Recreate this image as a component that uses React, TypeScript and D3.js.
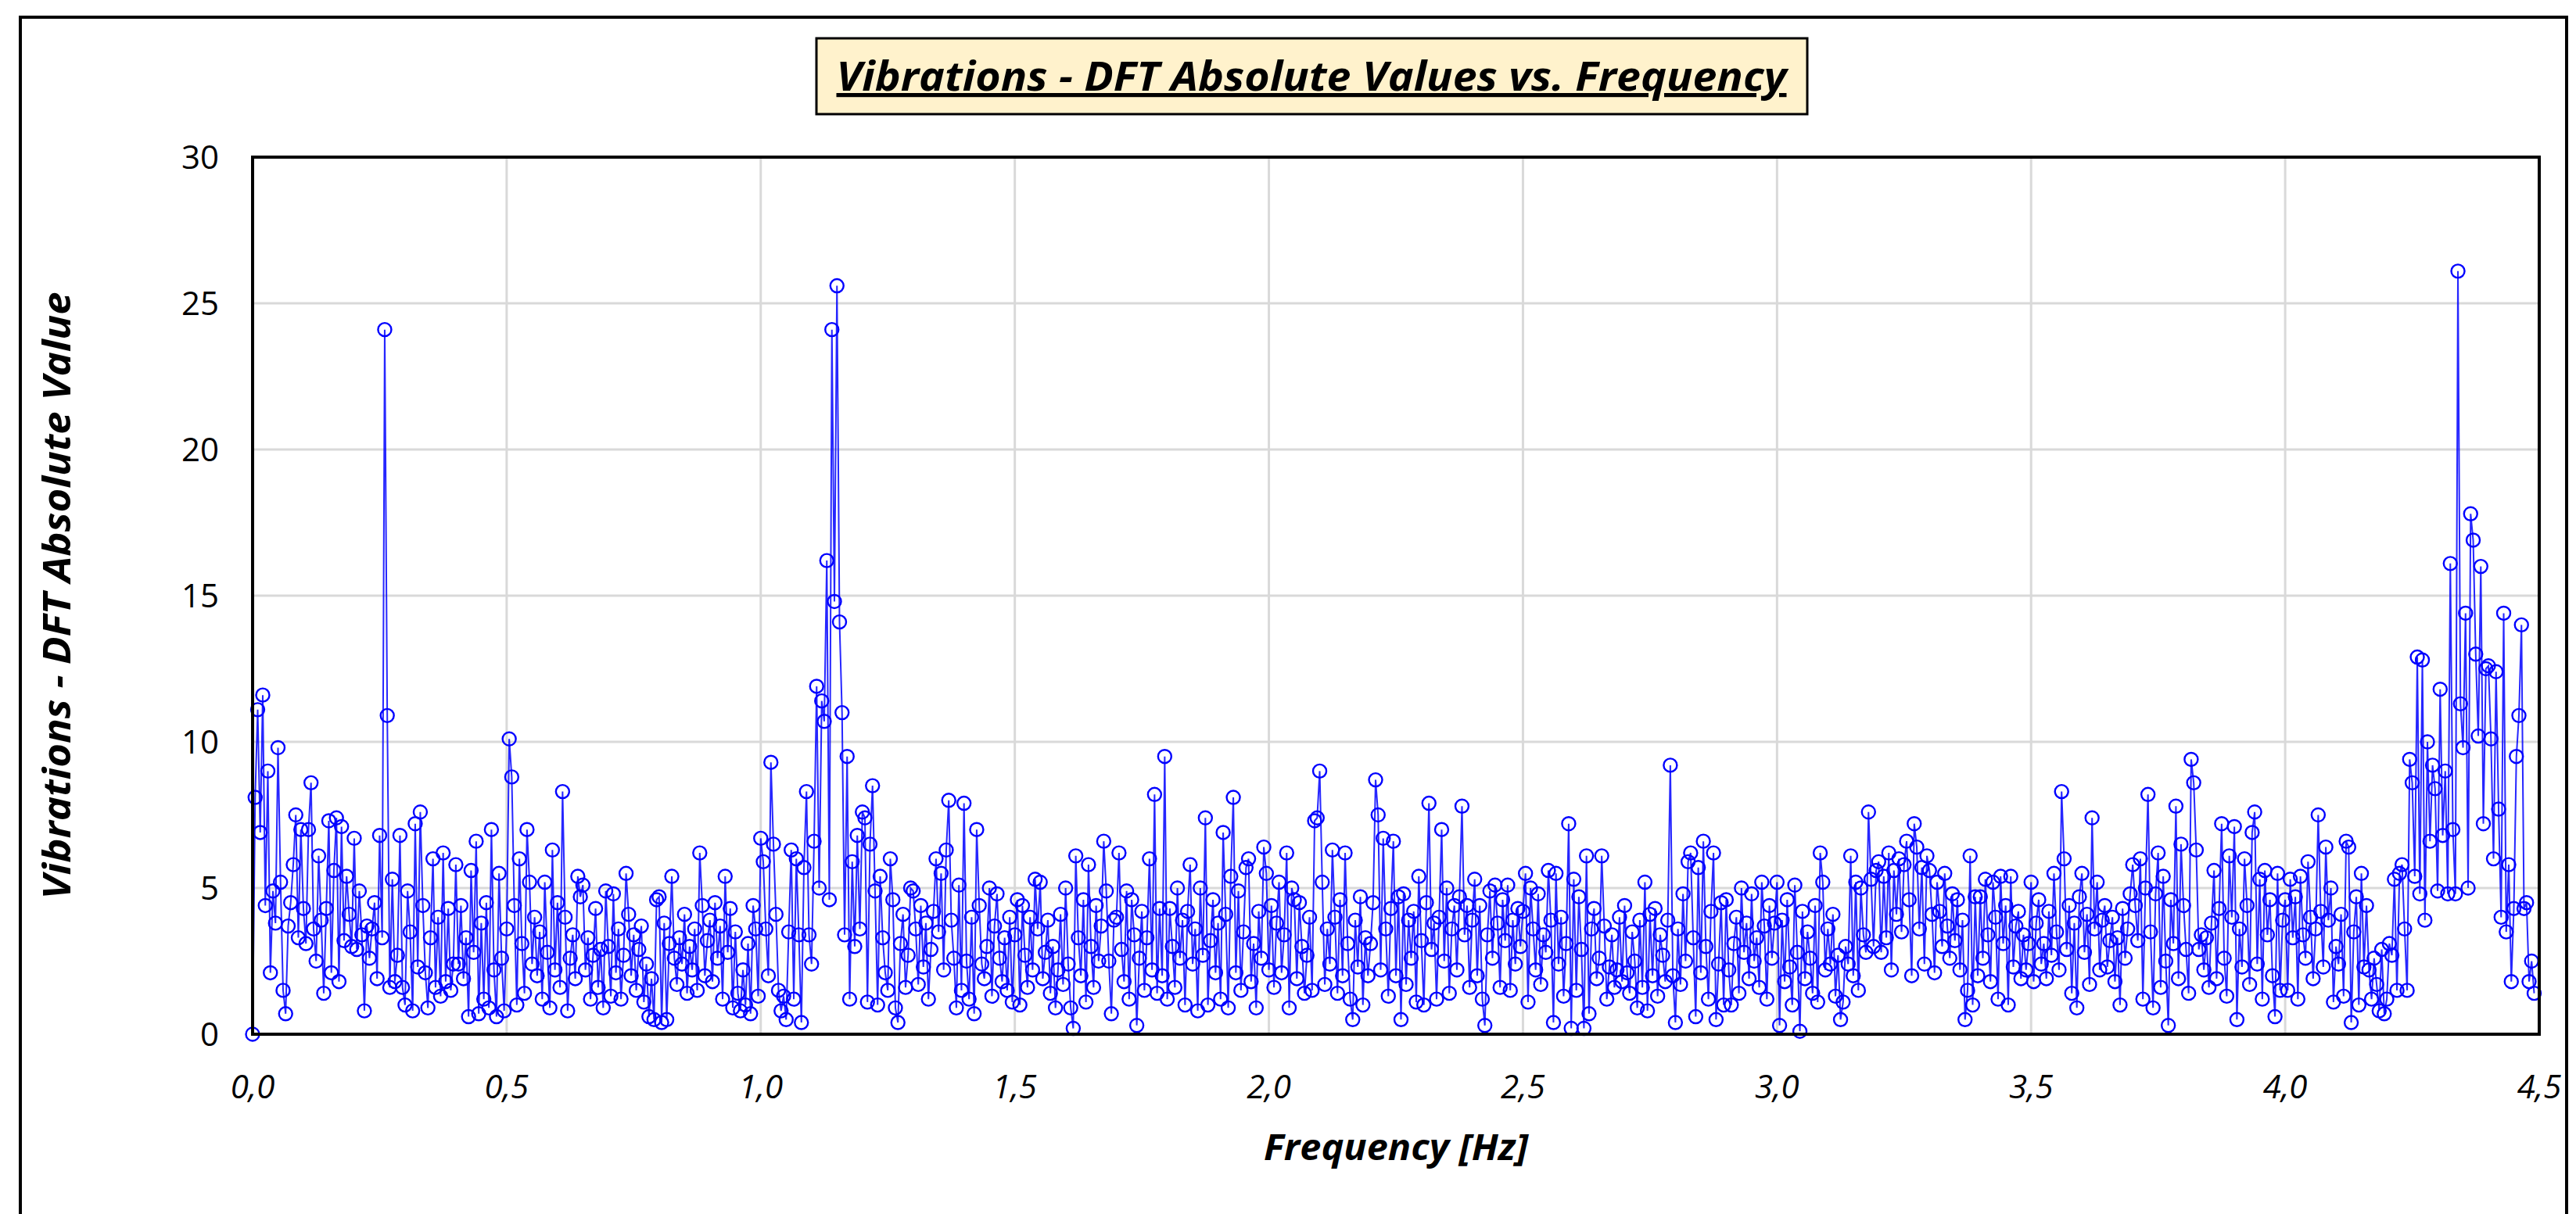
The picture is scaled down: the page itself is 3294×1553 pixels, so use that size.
import React from 'react';
import * as d3 from 'd3';

// DFT magnitudes, one value every 0.005 Hz in 0.5 Hz bands
const band00 = [
  0.0, 8.1, 11.1, 6.9, 11.6, 4.4, 9.0, 2.1, 4.9, 3.8, 9.8, 5.2, 1.5, 0.7, 3.7, 4.5, 5.8, 7.5, 3.3, 7.0,
  4.3, 3.1, 7.0, 8.6, 3.6, 2.5, 6.1, 3.9, 1.4, 4.3, 7.3, 2.1, 5.6, 7.4, 1.8, 7.1, 3.2, 5.4, 4.1, 3.0,
  6.7, 2.9, 4.9, 3.4, 0.8, 3.7, 2.6, 3.6, 4.5, 1.9, 6.8, 3.3, 24.1, 10.9, 1.6, 5.3, 1.8, 2.7, 6.8, 1.6,
  1.0, 4.9, 3.5, 0.8, 7.2, 2.3, 7.6, 4.4, 2.1, 0.9, 3.3, 6.0, 1.6, 4.0, 1.3, 6.2, 1.8, 4.3, 1.5, 2.4,
  5.8, 2.4, 4.4, 1.9, 3.3, 0.6, 5.6, 2.8, 6.6, 0.7, 3.8, 1.2, 4.5, 0.9, 7.0, 2.2, 0.6, 5.5, 2.6, 0.8,
];
const band05 = [
  3.6, 10.1, 8.8, 4.4, 1.0, 6.0, 3.1, 1.4, 7.0, 5.2, 2.4, 4.0, 2.0, 3.5, 1.2, 5.2, 2.8, 0.9, 6.3, 2.2,
  4.5, 1.6, 8.3, 4.0, 0.8, 2.6, 3.4, 1.9, 5.4, 4.7, 5.1, 2.2, 3.3, 1.2, 2.7, 4.3, 1.6, 2.9, 0.9, 4.9,
  3.0, 1.3, 4.8, 2.1, 3.6, 1.2, 2.7, 5.5, 4.1, 2.0, 3.4, 1.5, 2.9, 3.7, 1.1, 2.4, 0.6, 1.9, 0.5, 4.6,
  4.7, 0.4, 3.8, 0.5, 3.1, 5.4, 2.6, 1.7, 3.3, 2.4, 4.1, 1.4, 3.0, 2.2, 3.6, 1.5, 6.2, 4.4, 2.0, 3.2,
  3.9, 1.8, 4.5, 2.6, 3.7, 1.2, 5.4, 2.8, 4.3, 0.9, 3.5, 1.4, 0.8, 2.2, 1.0, 3.1, 0.7, 4.4, 3.6, 1.3,
];
const band10 = [
  6.7, 5.9, 3.6, 2.0, 9.3, 6.5, 4.1, 1.5, 0.8, 1.3, 0.5, 3.5, 6.3, 1.2, 6.0, 3.4, 0.4, 5.7, 8.3, 3.4,
  2.4, 6.6, 11.9, 5.0, 11.4, 10.7, 16.2, 4.6, 24.1, 14.8, 25.6, 14.1, 11.0, 3.4, 9.5, 1.2, 5.9, 3.0, 6.8, 3.6,
  7.6, 7.4, 1.1, 6.5, 8.5, 4.9, 1.0, 5.4, 3.3, 2.1, 1.5, 6.0, 4.6, 0.9, 0.4, 3.1, 4.1, 1.6, 2.7, 5.0,
  4.9, 3.6, 1.7, 4.4, 2.3, 3.8, 1.2, 2.9, 4.2, 6.0, 3.5, 5.5, 2.2, 6.3, 8.0, 3.9, 2.6, 0.9, 5.1, 1.5,
  7.9, 2.5, 1.2, 4.0, 0.7, 7.0, 4.4, 2.4, 1.9, 3.0, 5.0, 1.3, 3.7, 4.8, 2.6, 1.8, 3.3, 1.5, 4.0, 1.1,
];
const band15 = [
  3.4, 4.6, 1.0, 4.4, 2.7, 1.6, 4.0, 2.2, 5.3, 3.6, 5.2, 1.9, 2.8, 3.9, 1.4, 3.0, 0.9, 2.2, 4.1, 1.7,
  5.0, 2.4, 0.9, 0.2, 6.1, 3.3, 2.0, 4.6, 1.1, 5.8, 3.0, 1.6, 4.4, 2.5, 3.7, 6.6, 4.9, 2.5, 0.7, 3.9,
  4.0, 6.2, 2.9, 1.8, 4.9, 1.2, 4.6, 3.4, 0.3, 2.6, 4.2, 1.5, 3.3, 6.0, 2.2, 8.2, 1.4, 4.3, 2.0, 9.5,
  1.2, 4.3, 3.0, 1.6, 5.0, 2.6, 3.9, 1.0, 4.2, 5.8, 2.4, 3.6, 0.8, 5.0, 2.7, 7.4, 1.0, 3.2, 4.6, 2.1,
  3.8, 1.2, 6.9, 4.1, 0.9, 5.4, 8.1, 2.1, 4.9, 1.5, 3.5, 5.7, 6.0, 1.8, 3.1, 0.9, 4.2, 2.6, 6.4, 5.5,
];
const band20 = [
  2.2, 4.4, 1.6, 3.8, 5.2, 2.1, 3.4, 6.2, 0.9, 5.0, 4.6, 1.9, 4.5, 3.0, 1.4, 2.7, 4.0, 1.5, 7.3, 7.4,
  9.0, 5.2, 1.7, 3.6, 2.4, 6.3, 4.0, 1.4, 4.6, 2.0, 6.2, 3.1, 1.2, 0.5, 3.9, 2.3, 4.7, 1.0, 3.3, 2.0,
  3.1, 4.5, 8.7, 7.5, 2.2, 6.7, 3.6, 1.3, 4.3, 6.6, 2.0, 4.7, 0.5, 4.8, 1.7, 3.9, 2.6, 4.2, 1.1, 5.4,
  3.2, 1.0, 4.5, 7.9, 2.9, 3.8, 1.2, 4.0, 7.0, 2.5, 5.0, 1.4, 3.6, 4.4, 2.2, 4.7, 7.8, 3.4, 4.4, 1.6,
  3.9, 5.3, 2.0, 4.4, 1.2, 0.3, 3.4, 4.9, 2.6, 5.1, 3.8, 1.6, 4.6, 3.2, 5.1, 1.5, 3.9, 2.4, 4.3, 3.0,
];
const band25 = [
  4.2, 5.5, 1.1, 5.0, 3.6, 2.2, 4.8, 1.7, 3.4, 2.8, 5.6, 3.9, 0.4, 5.5, 2.4, 4.0, 1.3, 3.1, 7.2, 0.2,
  5.3, 1.5, 4.7, 2.9, 0.2, 6.1, 0.7, 3.6, 4.3, 1.9, 2.6, 6.1, 3.7, 1.2, 2.3, 3.4, 1.6, 2.2, 4.0, 1.8,
  4.4, 2.1, 1.4, 3.5, 2.5, 0.9, 3.9, 1.6, 5.2, 0.8, 4.1, 2.0, 4.3, 1.3, 3.4, 2.7, 1.8, 3.9, 9.2, 2.0,
  0.4, 3.6, 1.7, 4.8, 2.5, 5.9, 6.2, 3.3, 0.6, 5.7, 2.1, 6.6, 3.0, 1.2, 4.2, 6.2, 0.5, 2.4, 4.5, 1.0,
  4.6, 2.2, 1.0, 3.1, 4.0, 1.4, 5.0, 2.8, 3.8, 1.9, 4.8, 2.5, 3.3, 1.6, 5.2, 3.7, 1.2, 4.4, 2.6, 3.8,
];
const band30 = [
  5.2, 0.3, 3.9, 1.8, 4.6, 2.3, 1.0, 5.1, 2.8, 0.1, 4.2, 1.9, 3.5, 2.6, 1.4, 4.4, 1.1, 6.2, 5.2, 2.2,
  3.6, 2.4, 4.1, 1.3, 2.7, 0.5, 1.1, 3.0, 2.4, 6.1, 2.0, 5.2, 1.5, 5.0, 3.4, 2.8, 7.6, 5.3, 3.0, 5.6,
  5.9, 2.8, 5.4, 3.3, 6.2, 2.2, 5.6, 4.1, 6.0, 3.5, 5.8, 6.6, 4.6, 2.0, 7.2, 6.4, 3.6, 5.7, 2.4, 6.1,
  5.6, 4.1, 2.1, 5.2, 4.2, 3.0, 5.5, 3.7, 2.6, 4.8, 3.2, 4.6, 2.2, 3.9, 0.5, 1.5, 6.1, 1.0, 4.7, 2.0,
  4.7, 2.6, 5.3, 3.4, 1.8, 5.2, 4.0, 1.2, 5.4, 3.1, 4.4, 1.0, 5.4, 2.3, 3.7, 4.2, 1.9, 3.4, 2.2, 3.1,
];
const band35 = [
  5.2, 1.8, 3.8, 4.6, 2.4, 3.1, 1.9, 4.2, 2.7, 5.5, 3.5, 2.2, 8.3, 6.0, 2.9, 4.4, 1.4, 3.8, 0.9, 4.7,
  5.5, 2.8, 4.1, 1.7, 7.4, 3.6, 5.2, 2.2, 3.9, 4.4, 2.3, 3.2, 4.0, 1.8, 3.3, 1.0, 4.3, 2.6, 3.6, 4.8,
  5.8, 4.4, 3.2, 6.0, 1.2, 5.0, 8.2, 3.5, 0.9, 4.8, 6.2, 1.6, 5.4, 2.5, 0.3, 4.6, 3.1, 7.8, 1.9, 6.5,
  4.4, 2.9, 1.4, 9.4, 8.6, 6.3, 2.9, 3.4, 2.2, 3.3, 1.6, 3.8, 5.6, 1.9, 4.3, 7.2, 2.6, 1.3, 6.1, 4.0,
  7.1, 0.5, 3.6, 2.3, 6.0, 4.4, 1.7, 6.9, 7.6, 2.4, 5.3, 1.2, 5.6, 3.4, 4.6, 2.0, 0.6, 5.5, 1.5, 3.9,
];
const band40 = [
  4.6, 1.5, 5.3, 3.3, 4.7, 1.2, 5.4, 3.4, 2.6, 5.9, 4.0, 1.9, 3.6, 7.5, 4.2, 2.3, 6.4, 3.9, 5.0, 1.1,
  3.0, 2.4, 4.1, 1.3, 6.6, 6.4, 0.4, 3.5, 4.7, 1.0, 5.5, 2.3, 4.4, 2.2, 1.2, 2.6, 1.7, 0.8, 2.9, 0.7,
  1.2, 3.1, 2.7, 5.3, 1.5, 5.5, 5.8, 3.6, 1.5, 9.4, 8.6, 5.4, 12.9, 4.8, 12.8, 3.9, 10.0, 6.6, 9.2, 8.4,
  4.9, 11.8, 6.8, 9.0, 4.8, 16.1, 7.0, 4.8, 26.1, 11.3, 9.8, 14.4, 5.0, 17.8, 16.9, 13.0, 10.2, 16.0, 7.2, 12.5,
  12.6, 10.1, 6.0, 12.4, 7.7, 4.0, 14.4, 3.5, 5.8, 1.8, 4.3, 9.5, 10.9, 14.0, 4.3, 4.5, 1.8, 2.5, 1.4,
];

const freqStep = 0.005;
const xTicks = [0, 0.5, 1, 1.5, 2, 2.5, 3, 3.5, 4, 4.5];
const yTicks = [0, 5, 10, 15, 20, 25, 30];

const title = 'Vibrations - DFT Absolute Values vs. Frequency';
const xTitle = 'Frequency [Hz]';
const yTitle = 'Vibrations - DFT Absolute Value';

const W = 3294;
const H = 1553;
const plot = { left: 323, right: 3247, top: 201, bottom: 1323 };
const font = "'Open Sans', 'Noto Sans', sans-serif";

const commaFmt = d3.formatLocale({ decimal: ',', thousands: '.', grouping: [3], currency: ['', ''] }).format('.1f');

export default function App() {
  const amps = [...band00, ...band05, ...band10, ...band15, ...band20, ...band25, ...band30, ...band35, ...band40];
  const data = amps.map((v, i) => ({ f: i * freqStep, v }));

  const x = d3.scaleLinear().domain([0, 4.5]).range([plot.left, plot.right]);
  const y = d3.scaleLinear().domain([0, 30]).range([plot.bottom, plot.top]);

  const line = d3.line<{ f: number; v: number }>()
    .x(d => x(d.f))
    .y(d => y(d.v));

  return (
    <svg width={W} height={H} style={{ position: 'absolute', left: 0, top: 0, background: '#fff' }}>
      <rect x={0} y={0} width={W} height={H} fill="#fff" />
      {/* outer chart frame */}
      <rect x={26} y={22} width={3256} height={1560} fill="none" stroke="#000" strokeWidth={4} />

      {/* title box */}
      <rect x={1044} y={49} width={1267} height={97} fill="#FFF2CC" stroke="#000" strokeWidth={3} />
      <text x={1677} y={116} textAnchor="middle" fontFamily={font} fontSize={52} fontWeight="bold"
        fontStyle="italic" textDecoration="underline" textLength={1215} lengthAdjust="spacingAndGlyphs">
        {title}
      </text>

      {/* grid */}
      {yTicks.map(t => (
        <line key={'gy' + t} x1={plot.left} x2={plot.right} y1={y(t)} y2={y(t)} stroke="#D9D9D9" strokeWidth={3} />
      ))}
      {xTicks.map(t => (
        <line key={'gx' + t} x1={x(t)} x2={x(t)} y1={plot.top} y2={plot.bottom} stroke="#D9D9D9" strokeWidth={3} />
      ))}

      {/* series */}
      <path d={line(data) || ''} fill="none" stroke="#0000FF" strokeWidth={2} strokeOpacity={0.85} />
      {data.map((d, i) => (
        <circle key={i} cx={x(d.f)} cy={y(d.v)} r={8.5} fill="none" stroke="#0000FF" strokeWidth={2.4} />
      ))}

      {/* plot border */}
      <rect x={plot.left} y={plot.top} width={plot.right - plot.left} height={plot.bottom - plot.top}
        fill="none" stroke="#000" strokeWidth={4} />

      {/* y tick labels */}
      {yTicks.map(t => (
        <text key={'ty' + t} x={280} y={y(t) + 15} textAnchor="end" fontFamily={font} fontSize={42} fill="#000">
          {t}
        </text>
      ))}
      {/* x tick labels */}
      {xTicks.map(t => (
        <text key={'tx' + t} x={x(t)} y={1405} textAnchor="middle" fontFamily={font} fontSize={42}
          fontStyle="italic" fill="#000">
          {commaFmt(t)}
        </text>
      ))}

      {/* axis titles */}
      <text x={(plot.left + plot.right) / 2} y={1484} textAnchor="middle" fontFamily={font} fontSize={46}
        fontWeight="bold" fontStyle="italic" textLength={338} lengthAdjust="spacingAndGlyphs">
        {xTitle}
      </text>
      <text transform={`translate(90, ${(plot.top + plot.bottom) / 2}) rotate(-90)`} textAnchor="middle"
        fontFamily={font} fontSize={48} fontWeight="bold" fontStyle="italic" textLength={777}
        lengthAdjust="spacingAndGlyphs">
        {yTitle}
      </text>
    </svg>
  );
}
